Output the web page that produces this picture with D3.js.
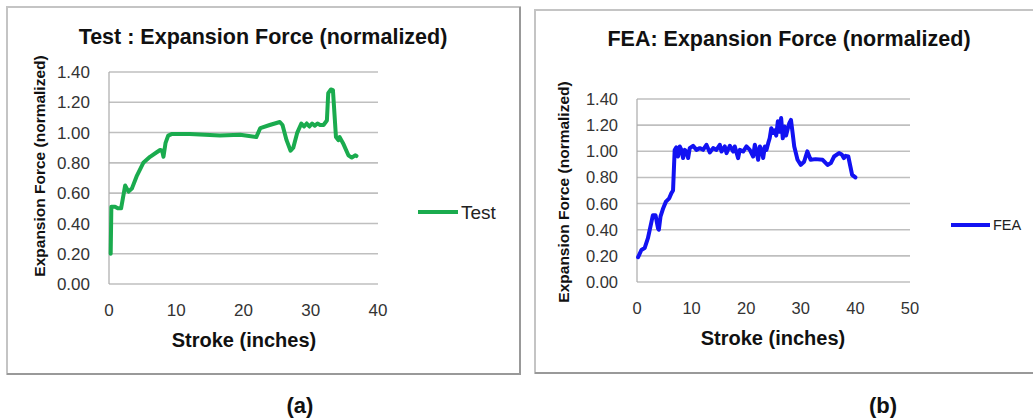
<!DOCTYPE html>
<html>
<head>
<meta charset="utf-8">
<script src="https://cdn.jsdelivr.net/npm/d3@7"></script>
<style>
    body { margin: 0; background: #fff; }
    svg { display: block; font-family: 'Liberation Sans', Arial, sans-serif; }
    .grid line { stroke: #bfbfbf; stroke-width: 1.6; }
    .tick-label { fill: #333; }
    .title, .axis-title, .caption { font-weight: bold; fill: #111; }
</style>
</head>
<body>
<svg id="vis" width="1033" height="420"></svg>
<script>
// Test curve (left panel)
const testStroke = [0.25, 0.35, 0.9, 1.3, 1.8, 2.4, 2.9, 3.4, 4.1, 5.1, 6.1, 7.1, 7.6, 7.9, 8.1, 8.4, 8.8, 9.3,
    12, 16.5, 19.5, 21.9, 22.5, 23.9, 25.4, 25.8, 26.4, 27.0, 27.4, 28.0, 28.4, 28.6, 29.0, 29.4, 29.8,
    30.2, 30.6, 31.0, 31.4, 31.9, 32.4, 32.6, 33.0, 33.3, 33.75, 34.1, 34.3, 34.8, 35.6, 36.1, 36.6, 36.8];
const testForce = [0.20, 0.51, 0.51, 0.50, 0.50, 0.65, 0.61, 0.63, 0.71, 0.80, 0.84, 0.87, 0.885, 0.88, 0.84, 0.93, 0.98, 0.99,
    0.99, 0.98, 0.985, 0.97, 1.03, 1.05, 1.07, 1.05, 0.95, 0.88, 0.90, 1.00, 1.04, 1.06, 1.04, 1.06, 1.04,
    1.06, 1.045, 1.06, 1.05, 1.05, 1.08, 1.26, 1.285, 1.28, 0.97, 0.95, 0.97, 0.93, 0.85, 0.835, 0.85, 0.845];

// FEA curve (right panel)
const feaStroke = [0.2, 0.8, 1.4, 2.0, 2.6, 2.9, 3.4, 3.85, 4.0, 4.3, 4.8, 5.3, 5.9, 6.3, 6.6, 6.9, 7.2,
    7.52, 7.83, 8.14, 8.44, 8.75, 9.05, 9.36, 9.66, 10.27, 10.89, 11.5, 12.1, 12.72, 13.33, 13.94, 14.55,
    15.16, 15.47, 16.08, 16.39, 17.0, 17.61, 17.91, 18.52, 18.83, 19.44, 20.05, 20.66, 21.27, 21.58, 21.89,
    22.19, 22.5, 22.8, 23.11, 23.42, 23.72, 24.03, 24.3, 24.6, 24.9, 25.2, 25.5, 25.8, 26.1, 26.4, 26.7,
    27.0, 27.3, 27.6, 27.9, 28.2, 28.5, 28.8, 29.4, 30.0, 30.6, 31.2, 31.8, 32.7, 34.0, 34.9, 35.5, 36.1,
    37.0, 37.5, 37.9, 38.2, 38.7, 39.1, 39.4, 40.0];
const feaForce = [0.19, 0.245, 0.26, 0.335, 0.45, 0.51, 0.51, 0.41, 0.40, 0.50, 0.565, 0.615, 0.64, 0.68, 0.70, 1.01, 1.03,
    0.96, 1.037, 1.011, 0.948, 1.011, 0.998, 0.948, 1.024, 1.042, 1.011, 1.024, 1.011, 1.05, 0.991, 1.024, 1.011,
    1.05, 0.998, 1.037, 0.986, 1.042, 0.998, 1.037, 0.948, 1.011, 0.998, 1.037, 1.011, 0.96, 1.05, 0.998,
    0.935, 1.037, 1.011, 0.948, 1.037, 1.011, 1.062, 1.10, 1.177, 1.14, 1.16, 1.12, 1.23, 1.15, 1.254, 1.10,
    1.19, 1.12, 1.17, 1.216, 1.24, 1.14, 1.037, 0.935, 0.896, 0.92, 0.999, 0.935, 0.94, 0.935, 0.896, 0.91, 0.96,
    0.986, 0.975, 0.948, 0.965, 0.96, 0.88, 0.82, 0.80];

const yTicks = [0, 0.2, 0.4, 0.6, 0.8, 1.0, 1.2, 1.4];
const testXTicks = [0, 10, 20, 30, 40];
const feaXTicks = [0, 10, 20, 30, 40, 50];

/**
 * A line chart panel, Excel style.
 */
function lineChart() {
    let box = { x: 0, y: 0, w: 500, h: 360 },
        plot = { left: 100, right: 380, top: 70, bottom: 280 },
        xTicks, yTicksVals = yTicks,
        title = '', seriesName = '', color = 'green',
        titlePos = [0, 0], yTitlePos = [0, 0], xTitlePos = [0, 0],
        legend = { x1: 0, x2: 0, y: 0, size: 18 },
        fonts = { title: 21.5, axis: 15.5, xAxis: 20, tick: 16.5 },
        tickGap = 19, xTickY = 316;

    function module(selection) {
        selection.each(function(d) {
            const g = d3.select(this).append('g').attr('class', 'panel');

            // Panel frame
            g.append('rect')
                .attr('x', box.x).attr('y', box.y).attr('width', box.w).attr('height', box.h)
                .attr('fill', '#fff').attr('stroke', '#c4c4c4').attr('stroke-width', 2);
            g.append('path')
                .attr('d', `M${box.x + box.w},${box.y} V${box.y + box.h} H${box.x}`)
                .attr('fill', 'none').attr('stroke', '#999').attr('stroke-width', 2);

            const xScale = d3.scaleLinear().domain(d3.extent(xTicks)).range([plot.left, plot.right]),
                yScale = d3.scaleLinear().domain(d3.extent(yTicksVals)).range([plot.bottom, plot.top]);

            // Gridlines
            g.append('g').attr('class', 'grid').selectAll('line').data(yTicksVals)
                .enter().append('line')
                .attr('x1', plot.left).attr('x2', plot.right)
                .attr('y1', v => yScale(v)).attr('y2', v => yScale(v));
            g.append('line')
                .attr('x1', plot.left).attr('x2', plot.left)
                .attr('y1', plot.top).attr('y2', plot.bottom)
                .attr('stroke', '#aaa').attr('stroke-width', 1.2);

            // Tick labels
            g.selectAll('text.ytick').data(yTicksVals)
                .enter().append('text')
                .attr('class', 'ytick tick-label')
                .attr('x', plot.left - tickGap).attr('y', v => yScale(v))
                .attr('dy', '0.36em').attr('text-anchor', 'end')
                .style('font-size', fonts.tick + 'px')
                .text(d3.format('.2f'));
            g.selectAll('text.xtick').data(xTicks)
                .enter().append('text')
                .attr('class', 'xtick tick-label')
                .attr('x', v => xScale(v)).attr('y', xTickY)
                .attr('text-anchor', 'middle')
                .style('font-size', fonts.tick + 'px')
                .text(String);

            // Titles
            g.append('text').attr('class', 'title')
                .attr('x', titlePos[0]).attr('y', titlePos[1]).attr('text-anchor', 'middle')
                .style('font-size', fonts.title + 'px').text(title);
            g.append('text').attr('class', 'axis-title')
                .attr('transform', `translate(${yTitlePos[0]},${yTitlePos[1]}) rotate(-90)`)
                .attr('text-anchor', 'middle').attr('dy', '0.36em')
                .style('font-size', fonts.axis + 'px').text('Expansion Force (normalized)');
            g.append('text').attr('class', 'axis-title')
                .attr('x', xTitlePos[0]).attr('y', xTitlePos[1]).attr('text-anchor', 'middle')
                .style('font-size', fonts.xAxis + 'px').text('Stroke (inches)');

            // Series
            const line = d3.line().x(p => xScale(p[0])).y(p => yScale(p[1]));
            g.append('path').datum(d)
                .attr('d', line)
                .attr('fill', 'none').attr('stroke', color)
                .attr('stroke-width', 4).attr('stroke-linejoin', 'round').attr('stroke-linecap', 'round');

            // Legend
            g.append('line')
                .attr('x1', legend.x1).attr('x2', legend.x2).attr('y1', legend.y).attr('y2', legend.y)
                .attr('stroke', color).attr('stroke-width', 4);
            g.append('text')
                .attr('x', legend.x2 + 3).attr('y', legend.y).attr('dy', '0.36em')
                .style('font-size', legend.size + 'px').attr('fill', '#222')
                .text(seriesName);
        });
    }

    module.box = function(v) { if (!arguments.length) return box; box = v; return this; };
    module.plot = function(v) { if (!arguments.length) return plot; plot = v; return this; };
    module.xTicks = function(v) { if (!arguments.length) return xTicks; xTicks = v; return this; };
    module.title = function(v) { if (!arguments.length) return title; title = v; return this; };
    module.seriesName = function(v) { if (!arguments.length) return seriesName; seriesName = v; return this; };
    module.color = function(v) { if (!arguments.length) return color; color = v; return this; };
    module.titlePos = function(v) { if (!arguments.length) return titlePos; titlePos = v; return this; };
    module.yTitlePos = function(v) { if (!arguments.length) return yTitlePos; yTitlePos = v; return this; };
    module.xTitlePos = function(v) { if (!arguments.length) return xTitlePos; xTitlePos = v; return this; };
    module.legend = function(v) { if (!arguments.length) return legend; legend = v; return this; };
    module.fonts = function(v) { if (!arguments.length) return fonts; fonts = v; return this; };
    module.xTickY = function(v) { if (!arguments.length) return xTickY; xTickY = v; return this; };

    return module;
}

const svg = d3.select('#vis');

const testChart = lineChart()
    .box({ x: 7, y: 7, w: 513, h: 367 })
    .plot({ left: 109, right: 378, top: 72, bottom: 284 })
    .xTicks(testXTicks)
    .title('Test : Expansion Force (normalized)')
    .titlePos([263, 44])
    .yTitlePos([39, 166])
    .xTitlePos([244, 347])
    .xTickY(316)
    .seriesName('Test')
    .color('#1aab4e')
    .legend({ x1: 418, x2: 458, y: 212, size: 19 })
    .fonts({ title: 21.5, axis: 15.5, xAxis: 20, tick: 17 });

const feaChart = lineChart()
    .box({ x: 535, y: 10, w: 600, h: 363 })
    .plot({ left: 637, right: 910, top: 99, bottom: 282 })
    .xTicks(feaXTicks)
    .title('FEA: Expansion Force (normalized)')
    .titlePos([789, 46])
    .yTitlePos([563, 192])
    .xTitlePos([773, 345])
    .xTickY(314)
    .seriesName('FEA')
    .color('#1212f2')
    .legend({ x1: 951, x2: 990, y: 225, size: 14.5 })
    .fonts({ title: 21.5, axis: 15.5, xAxis: 20, tick: 16.5 });

svg.append('g').datum(d3.zip(testStroke, testForce)).call(testChart);
svg.append('g').datum(d3.zip(feaStroke, feaForce)).call(feaChart);

// Captions
svg.selectAll('text.caption').data(['(a)', '(b)'])
    .enter().append('text')
    .attr('class', 'caption')
    .attr('x', (d, i) => i ? 883 : 300).attr('y', 413)
    .attr('text-anchor', 'middle')
    .style('font-size', '22px')
    .text(String);
</script>
</body>
</html>
